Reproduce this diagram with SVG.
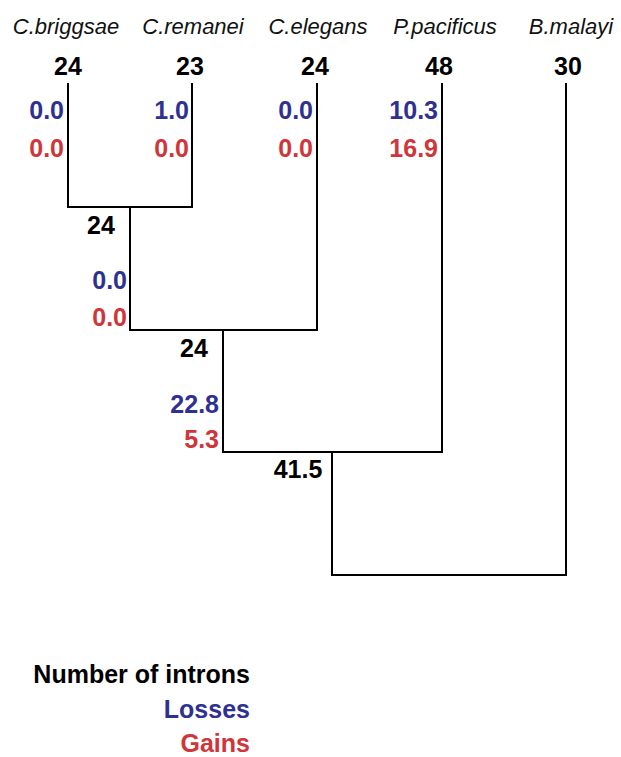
<svg xmlns="http://www.w3.org/2000/svg" width="621" height="757" viewBox="0 0 621 757">
  <style>
    .sp { font-family: "Liberation Sans", Arial, sans-serif; font-style: italic; font-size: 22px; fill: #111; text-anchor: middle; }
    .n { font-family: "Liberation Sans", Arial, sans-serif; font-weight: bold; font-size: 25px; fill: #000; }
    .c { text-anchor: middle; }
    .r { text-anchor: end; }
    .loss { fill: #2e3192; }
    .gain { fill: #d0353a; }
    .branch { fill: none; stroke: #000; stroke-width: 2; }
  </style>
  <rect width="621" height="757" fill="#fff"/>

  <!-- tree branches -->
  <g id="connectors">
    <path class="branch" d="M68,83 V207 H192 V83"/>
    <path class="branch" d="M130,207 V330 H317 V83"/>
    <path class="branch" d="M223,330 V452 H442 V83"/>
    <path class="branch" d="M332,452 V575 H566 V83"/>
  </g>

  <!-- leaves -->
  <g id="briggsae">
    <text class="sp" x="66" y="34">C.briggsae</text>
    <text class="n c" x="68" y="75">24</text>
    <text class="n r loss" x="64" y="119">0.0</text>
    <text class="n r gain" x="64" y="157">0.0</text>
  </g>
  <g id="remanei">
    <text class="sp" x="193" y="34">C.remanei</text>
    <text class="n c" x="190" y="75">23</text>
    <text class="n r loss" x="189" y="119">1.0</text>
    <text class="n r gain" x="189" y="157">0.0</text>
  </g>
  <g id="elegans">
    <text class="sp" x="318" y="34">C.elegans</text>
    <text class="n c" x="315" y="75">24</text>
    <text class="n r loss" x="313" y="119">0.0</text>
    <text class="n r gain" x="313" y="157">0.0</text>
  </g>
  <g id="pacificus">
    <text class="sp" x="445" y="34">P.pacificus</text>
    <text class="n c" x="439" y="75">48</text>
    <text class="n r loss" x="438" y="119">10.3</text>
    <text class="n r gain" x="438" y="157">16.9</text>
  </g>
  <g id="malayi">
    <text class="sp" x="571" y="34">B.malayi</text>
    <text class="n c" x="568" y="75">30</text>
  </g>

  <!-- internal nodes -->
  <g id="node-briggsae-remanei">
    <text class="n c" x="101" y="234">24</text>
    <text class="n r loss" x="127" y="289">0.0</text>
    <text class="n r gain" x="127" y="326">0.0</text>
  </g>
  <g id="node-caenorhabditis">
    <text class="n c" x="194" y="357">24</text>
    <text class="n r loss" x="219" y="413">22.8</text>
    <text class="n r gain" x="219" y="448">5.3</text>
  </g>
  <g id="node-root">
    <text class="n c" x="298" y="478">41.5</text>
  </g>

  <!-- key -->
  <g id="legend">
    <text class="n r" x="250" y="683">Number of introns</text>
    <text class="n r loss" x="250" y="718">Losses</text>
    <text class="n r gain" x="250" y="752">Gains</text>
  </g>
</svg>
